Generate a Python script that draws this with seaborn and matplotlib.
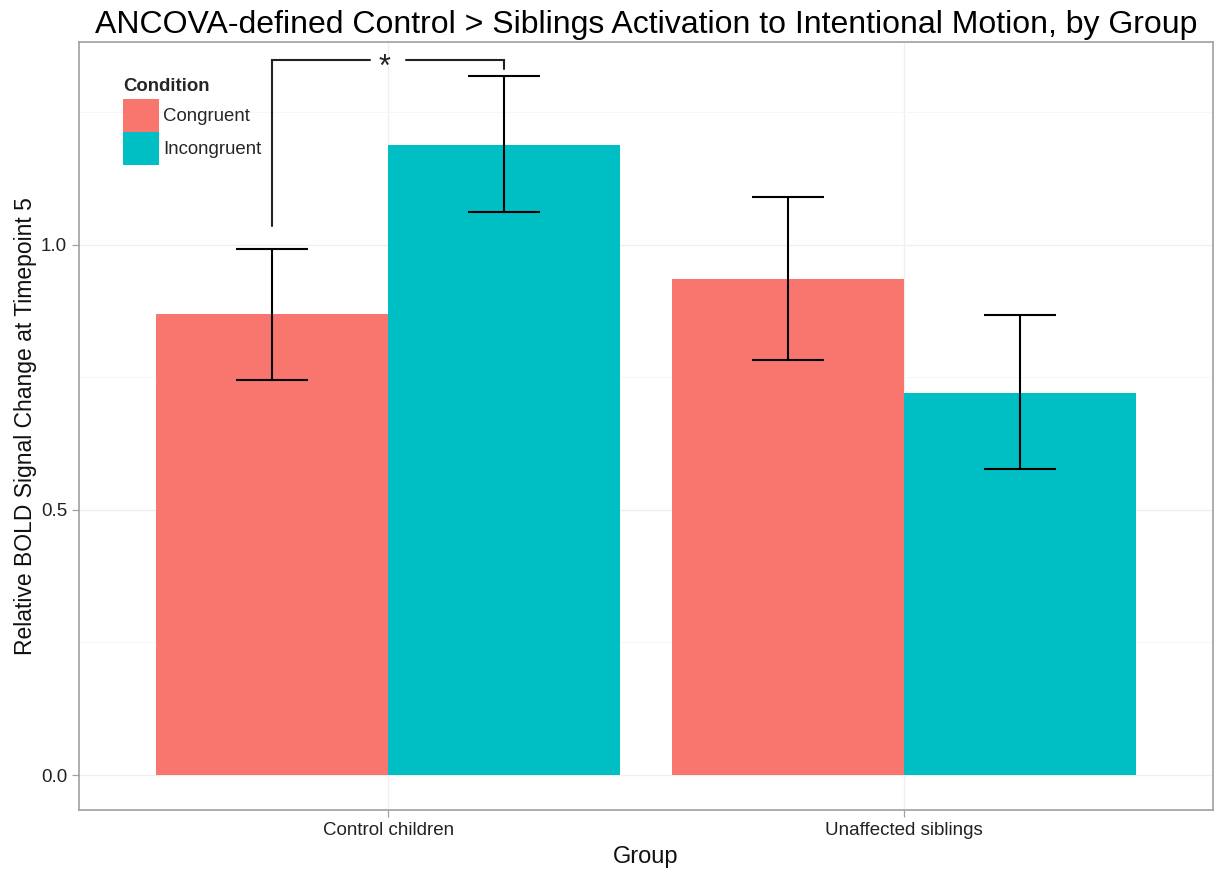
import numpy as np
import pandas as pd
import matplotlib
matplotlib.use("Agg")
import matplotlib.pyplot as plt
import seaborn as sns

groups = ["Control children", "Unaffected siblings"]
conditions = ["Congruent", "Incongruent"]
congruent_mean = [0.870, 0.936]
incongruent_mean = [1.189, 0.721]
congruent_lo = [0.745, 0.783]
congruent_hi = [0.992, 1.091]
incongruent_lo = [1.062, 0.577]
incongruent_hi = [1.319, 0.868]
yticks = [0.0, 0.5, 1.0]
ytick_labels = ["0.0", "0.5", "1.0"]
palette = {"Congruent": "#F8766D", "Incongruent": "#00BFC4"}

# significance bracket between the two control-children bars
bracket_y = 1.349
bracket_left_bottom = 1.036
bracket_right_bottom = 1.332

df = pd.DataFrame({
    "Group": groups * 2,
    "Condition": [conditions[0]] * 2 + [conditions[1]] * 2,
    "Value": congruent_mean + incongruent_mean,
    "lo": congruent_lo + incongruent_lo,
    "hi": congruent_hi + incongruent_hi,
})

sns.set_theme(style="white")
plt.rcParams["font.family"] = ["Liberation Sans", "DejaVu Sans"]

fig = plt.figure(figsize=(12.17, 8.71), dpi=100)
ax = fig.add_axes([0.0649, 0.070, 0.932, 0.882])

sns.barplot(data=df, x="Group", y="Value", hue="Condition", order=groups,
            hue_order=conditions, palette=palette, width=0.9, saturation=1,
            errorbar=None, ax=ax, zorder=2, linewidth=0, edgecolor="none")

# error bars drawn at the centre of each bar
for cond, cont in zip(conditions, ax.containers):
    sub = df[df["Condition"] == cond].set_index("Group").loc[groups]
    xs = [p.get_x() + p.get_width() / 2 for p in cont.patches]
    mean = sub["Value"].values
    ax.errorbar(xs, mean, yerr=[mean - sub["lo"].values, sub["hi"].values - mean],
                fmt="none", ecolor="black", elinewidth=1.5, capsize=26,
                capthick=1.5, zorder=3)

# bracket with star
c0 = ax.containers[0].patches[0]
c1 = ax.containers[1].patches[0]
xl = c0.get_x() + c0.get_width() / 2
xr = c1.get_x() + c1.get_width() / 2
xm = c0.get_x() + c0.get_width()
gap = 0.035
ax.plot([xl, xl, xm - gap], [bracket_left_bottom, bracket_y, bracket_y],
        color="#222222", lw=1.5, zorder=3, solid_joinstyle="miter")
ax.plot([xm + gap, xr, xr], [bracket_y, bracket_y, bracket_right_bottom],
        color="#222222", lw=1.5, zorder=3, solid_joinstyle="miter")
ax.text(xm - 0.008, bracket_y - 0.016, "*", ha="center", va="center", fontsize=22,
        color="#222222")

ax.set_xlim(-0.6, 1.6)
ax.set_ylim(-0.066, 1.383)
ax.set_yticks(yticks)
ax.set_yticklabels(ytick_labels)
ax.set_yticks([0.25, 0.75, 1.25], minor=True)

ax.grid(True, which="major", axis="both", color="#EFEFEF", lw=0.9, zorder=0)
ax.grid(True, which="minor", axis="y", color="#F6F6F6", lw=0.7, zorder=0)
ax.set_axisbelow(True)

for s in ax.spines.values():
    s.set_visible(True)
    s.set_color("#A0A0A0")
    s.set_linewidth(1.2)

ax.tick_params(axis="both", which="major", length=5, width=0.9, color="#A0A0A0",
               labelsize=13.5, labelcolor="#222222", left=True, bottom=True)
ax.tick_params(axis="y", which="minor", length=0)

ax.set_title("ANCOVA-defined Control > Siblings Activation to Intentional Motion, by Group",
             fontsize=23, color="black", pad=6)
ax.set_xlabel("Group", fontsize=17, color="#111111", labelpad=5)
ax.set_ylabel("Relative BOLD Signal Change at Timepoint 5", fontsize=16.5,
              color="#111111", labelpad=3)

handles, labels = ax.get_legend_handles_labels()
for h in handles:
    h.set_edgecolor("none")
    h.set_linewidth(0)
leg = ax.legend(handles, labels, title="Condition", loc="upper left",
                bbox_to_anchor=(0.039, 0.953), frameon=False, fontsize=13.4,
                handlelength=1.9, handleheight=2.35, handletextpad=0.25,
                labelspacing=0.0, borderaxespad=0.0, borderpad=0.0)
leg.get_title().set_fontweight("bold")
leg.get_title().set_fontsize(13.4)
leg._legend_box.align = "left"
leg._legend_box.sep = 3

fig.savefig("out.png", dpi=100)
